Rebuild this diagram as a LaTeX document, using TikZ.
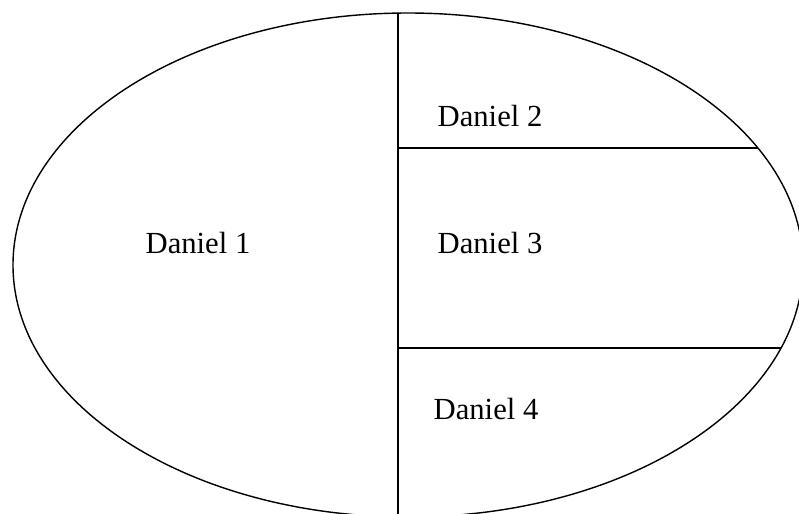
\documentclass[tikz,border=0pt]{standalone}
\usepackage{fontspec}
\setmainfont{Liberation Serif}

\begin{document}
\begin{tikzpicture}[
    x=0.025cm, y=-0.025cm,
    part/.style={font=\fontsize{21.8}{26}\selectfont, inner sep=0pt},
    border/.style={line width=1pt}
]
    \useasboundingbox (0,0) rectangle (799,513);
    \clip (0,0) rectangle (799,513);

    % Outline
    \draw[border] (408,265) ellipse [x radius=395, y radius=252];

    % Dividers
    \begin{scope}
        \clip (408,265) ellipse [x radius=395, y radius=252];
        \coordinate (vtop) at (398,0);
        \coordinate (vbot) at (398,530);
        \coordinate (h1l) at (398,148);
        \coordinate (h1r) at (850,148);
        \coordinate (h2l) at (398,348);
        \coordinate (h2r) at (850,348);
        \draw[border] (vtop) -- (vbot);
        \draw[border] (h1l) -- (h1r);
        \draw[border] (h2l) -- (h2r);
    \end{scope}

    % Labels
    \node[part] (d1) at (198,243) {Daniel 1};
    \node[part] (d2) at (490,116) {Daniel 2};
    \node[part] (d3) at (490,243) {Daniel 3};
    \node[part] (d4) at (486,409) {Daniel 4};
\end{tikzpicture}
\end{document}
